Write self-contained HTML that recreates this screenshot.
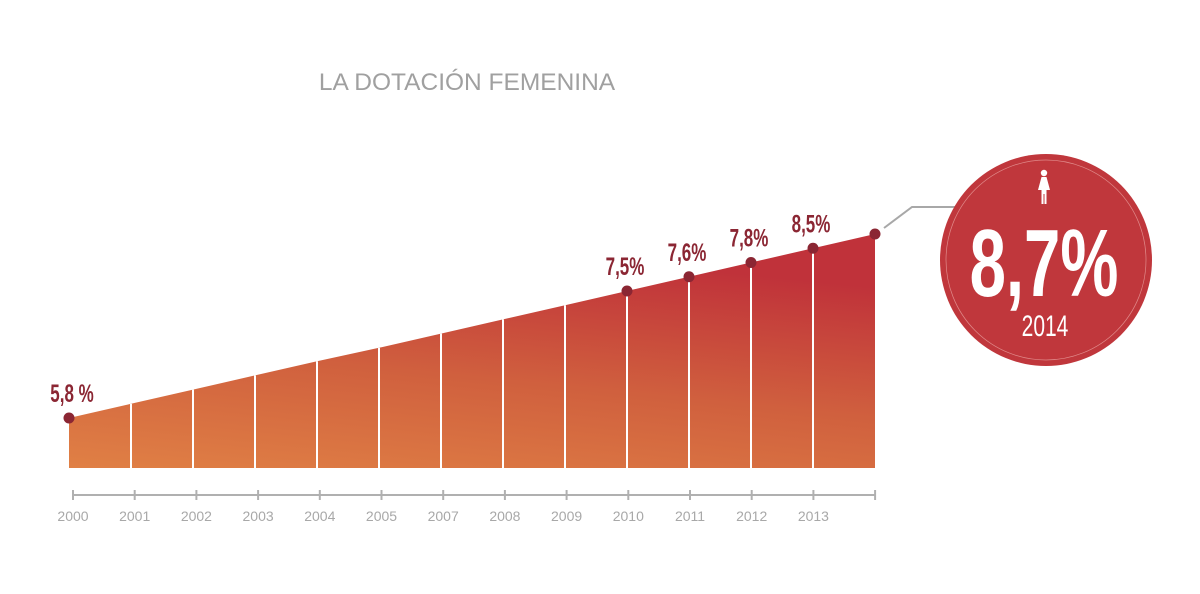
<!DOCTYPE html>
<html><head><meta charset="utf-8"><style>
body{margin:0;background:#fff;}
svg{display:block;font-family:"Liberation Sans",sans-serif;}
</style></head><body>
<svg width="1200" height="594" viewBox="0 0 1200 594">
<defs>
<linearGradient id="g" x1="0" y1="1" x2="0.35" y2="0">
<stop offset="0" stop-color="#e08045"/><stop offset="0.5" stop-color="#d0603e"/><stop offset="1" stop-color="#c0323a"/>
</linearGradient>
</defs>
<text x="467" y="90" text-anchor="middle" font-size="24.5" fill="#a0a0a0">LA DOTACIÓN FEMENINA</text>
<g id="plot"></g>
<g>
<polyline points="884,228 912,207 955,207" fill="none" stroke="#a8a8a8" stroke-width="2"/>
<circle cx="1046" cy="260" r="106" fill="#c0373c"/>
<circle cx="1046" cy="260" r="100" fill="none" stroke="#e08a8a" stroke-width="0.7"/>
<g fill="#fff">
<circle cx="1044" cy="173" r="3.2"/>
<path d="M1041.5,177 h5 l3.5,13 h-3.5 v14 h-2 v-10 h-1 v10 h-2 v-14 h-3.5 z"/>
</g>
<text x="0" y="0" transform="translate(1044,296) scale(0.68,1)" text-anchor="middle" font-size="96" font-weight="bold" fill="#fff">8,7%</text>
<text x="0" y="0" transform="translate(1045,336) scale(0.7,1)" text-anchor="middle" font-size="30" fill="#fff">2014</text>
</g>
</svg>
<script>
const years=['2000','2001','2002','2003','2004','2005','2007','2008','2009','2010','2011','2012','2013','2014'];
const values=[5.8,5.99,6.18,6.37,6.56,6.74,6.93,7.12,7.31,7.5,7.8,8.1,8.4,8.7];
const labels=['5,8 %','','','','','','','','','7,5%','7,6%','7,8%','8,5%',''];
const NS='http://www.w3.org/2000/svg';
const g=document.getElementById('plot');
const x=i=>69+i*62;
const axX=i=>73+i*61.7;
const dom=[5.0,5.8,7.5,8.7],rng=[468,418,291,234];
function y(v){
  for(let k=0;k<dom.length-1;k++){
    if(v<=dom[k+1]||k===dom.length-2){
      return rng[k]+(v-dom[k])/(dom[k+1]-dom[k])*(rng[k+1]-rng[k]);
    }
  }
}
function mk(t,a){const e=document.createElementNS(NS,t);for(const k in a)e.setAttribute(k,a[k]);g.appendChild(e);return e;}
let d='M'+x(0)+','+y(5.0);
values.forEach((v,i)=>{d+=' L'+x(i)+','+y(v);});
d+=' L'+x(values.length-1)+','+y(5.0)+' Z';
const area=mk('path',{d:d,fill:'url(#g)'});


for(let i=1;i<values.length-1;i++){
  const l=mk('line',{x1:x(i),x2:x(i),y1:y(values[i]),y2:468,stroke:'#fff','stroke-width':2});
  
  
}
const ax=mk('line',{x1:axX(0),x2:axX(years.length-1),y1:495,y2:495,stroke:'#b0b0b0','stroke-width':2});


years.forEach((yr,i)=>{
  const t=mk('line',{x1:axX(i),x2:axX(i),y1:490,y2:500,stroke:'#b0b0b0','stroke-width':2});
  
  
  if(i<years.length-1){
    const tx=mk('text',{x:axX(i),y:521,'text-anchor':'middle','font-size':14,fill:'#a8a8a8'});
    tx.textContent=yr;
    
    
  }
  if(labels[i]||i===years.length-1){
    const c=mk('circle',{cx:x(i),cy:y(values[i]),r:5.5,fill:'#8b2633'});
    
    
  }
  if(labels[i]){
    const lx=i===0?x(i)+3:x(i)-2;
    const lt=mk('text',{transform:'translate('+lx+','+(y(values[i])-16)+') scale(0.68,1)','text-anchor':'middle','font-size':25,'font-weight':'bold',fill:'#8b2633'});
    lt.textContent=labels[i];
    
    
  }
});
</script>
</body></html>
